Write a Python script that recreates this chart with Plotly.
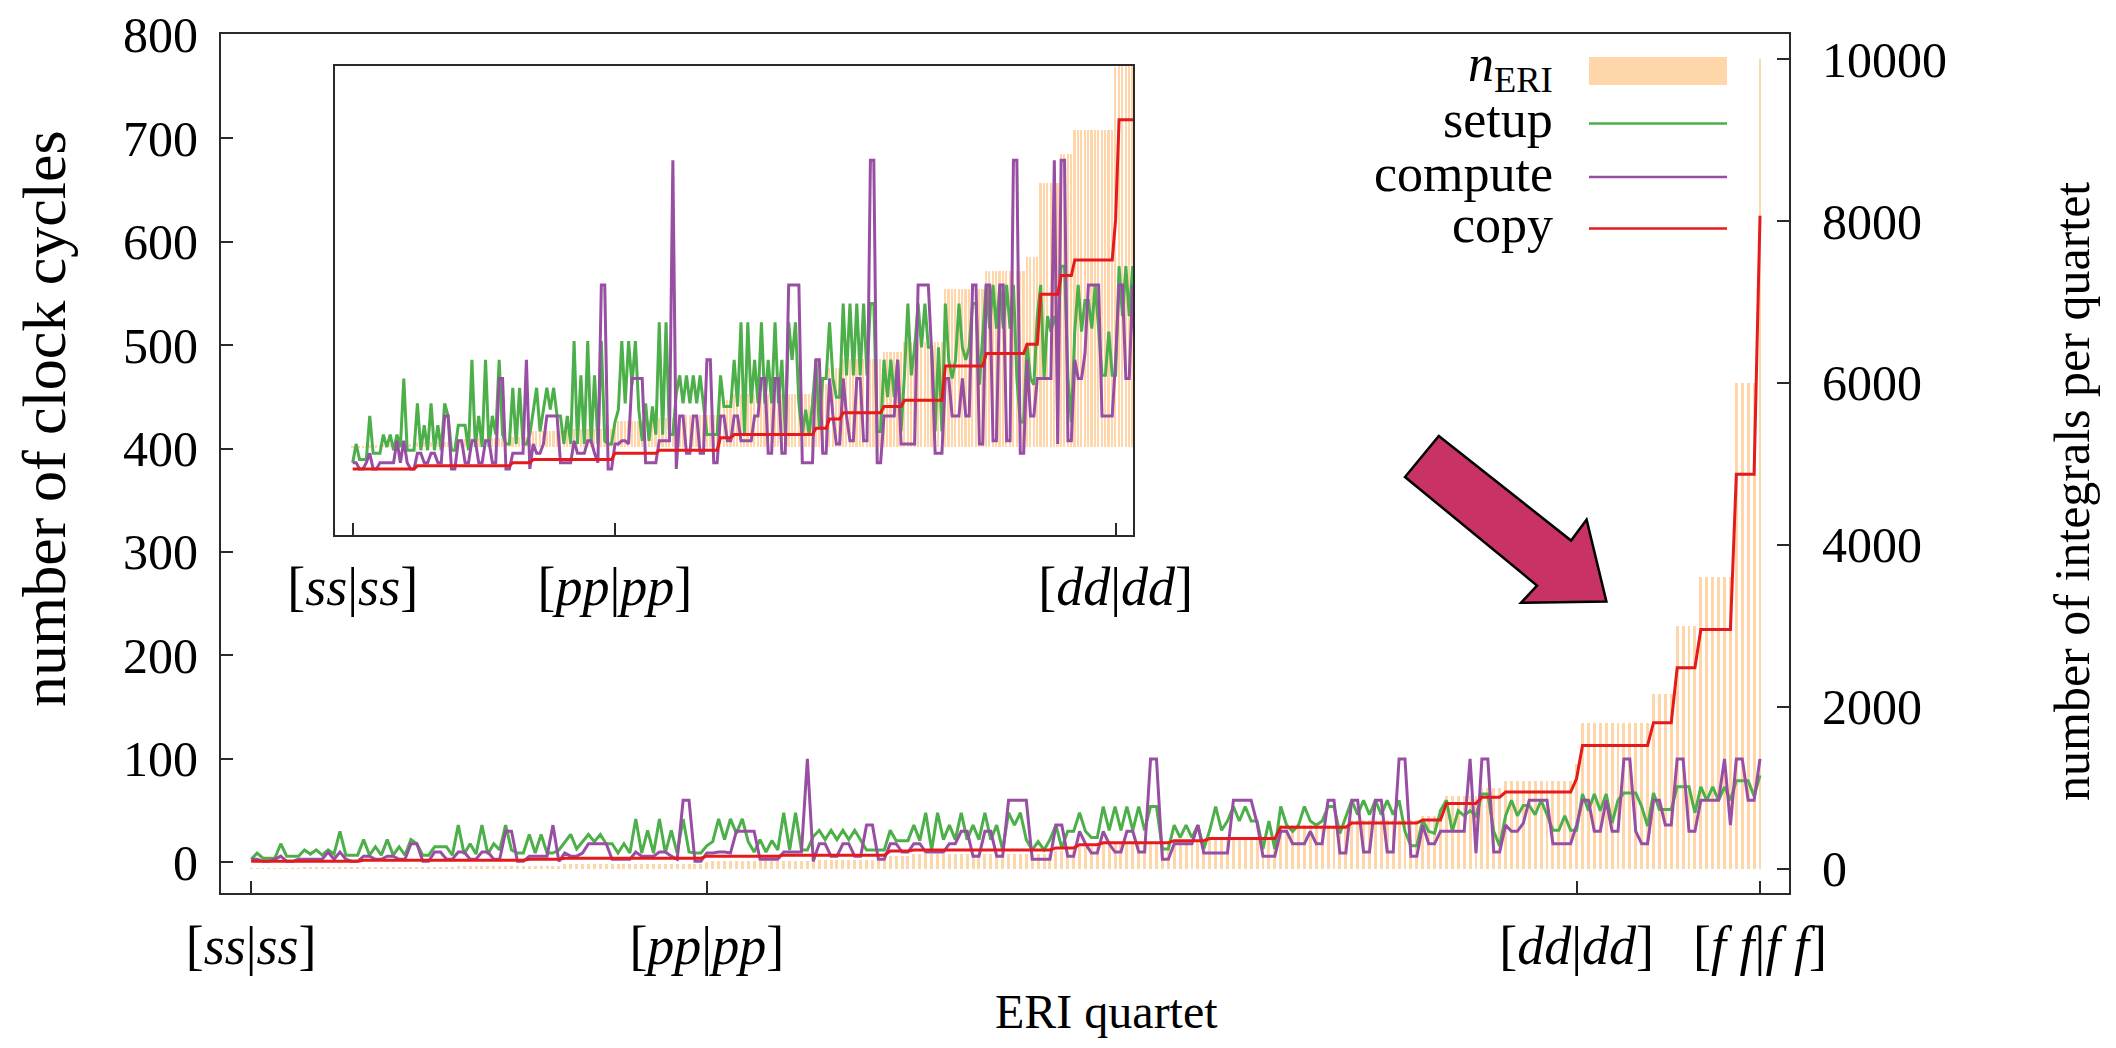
import plotly.graph_objects as go

# Reference canvas and main frame (pixels in the reference picture)
W, H = 2116, 1048
L, R, T, B = 221, 1789, 34, 893
OFF = 8                      # default page body margin
FW, FH = W - 2 * OFF, H - 2 * OFF

# ---------------- data ----------------
NERI_LEVELS = [1, 3, 6, 9, 10, 18, 27, 30, 36, 54, 60, 81, 90, 100, 108, 162, 180, 216,
               270, 300, 324, 360, 540, 600, 648, 900, 1000, 1080, 1296, 1800, 2160,
               3000, 3600, 6000, 10000]
NERI_COUNTS = [1, 4, 4, 6, 4, 12, 4, 12, 6, 12, 12, 1, 12, 6, 12, 4, 24, 4,
               4, 12, 6, 12, 12, 12, 4, 6, 4, 12, 1, 12, 4,
               4, 6, 4, 1]
COPY_LEVELS = [1, 1, 1, 1, 1, 2, 2, 2, 3, 4, 4, 6, 6, 7, 7, 11, 12, 14,
               17, 19, 21, 23, 34, 38, 41, 57, 63, 68, 81, 113, 135,
               188, 225, 375, 625]

SETUP = [
    3, 9, 4, 4, 4, 18, 6, 6, 6, 12,
    8, 12, 7, 12, 8, 30, 7, 7, 7, 22,
    7, 15, 7, 22, 7, 15, 7, 22, 18, 7,
    7, 15, 15, 15, 7, 36, 8, 18, 8, 36,
    8, 18, 12, 36, 12, 9, 9, 27, 9, 27,
    9, 9, 12, 20, 27, 13, 20, 27, 20, 27,
    18, 18, 9, 18, 9, 42, 9, 31, 9, 42,
    9, 31, 9, 42, 10, 9, 9, 16, 20, 42,
    22, 42, 28, 42, 20, 10, 22, 10, 21, 12,
    48, 12, 48, 12, 12, 25, 31, 22, 31, 22,
    31, 22, 31, 22, 12, 12, 12, 12, 31, 21,
    21, 21, 36, 21, 48, 12, 48, 22, 36, 22,
    48, 22, 36, 22, 48, 22, 36, 12, 48, 36,
    48, 22, 12, 20, 12, 22, 36, 14, 30, 30,
    48, 30, 24, 24, 54, 31, 54, 31, 54, 31,
    54, 31, 54, 54, 13, 13, 36, 24, 36, 24,
    36, 13, 31, 54, 31, 40, 54, 40, 54, 40,
    40, 13, 40, 13, 54, 36, 30, 36, 54, 40,
    36, 40, 54, 54, 28, 45, 60, 46, 60, 46,
    60, 46, 60, 46, 60, 30, 16, 16, 41, 30,
    28, 50, 60, 30, 50, 45, 50, 45, 66, 66,
    30, 16, 45, 60, 45, 55, 55, 46, 60, 46,
    31, 31, 45, 31, 31, 66, 50, 66, 50, 66,
    38, 60, 67, 67, 67, 54, 35, 67, 51, 51,
    51, 73, 73, 73, 48, 73, 60, 73, 60, 73,
    60, 79, 79, 79, 64, 84,
]

COMPUTE = [
    3, 3, 1, 1, 3, 6, 1, 1, 3, 3,
    3, 3, 3, 10, 3, 10, 3, 1, 1, 6,
    6, 3, 3, 6, 6, 3, 3, 18, 18, 1,
    1, 10, 10, 3, 3, 10, 10, 3, 3, 10,
    10, 3, 3, 30, 30, 1, 1, 6, 6, 6,
    6, 36, 1, 9, 6, 6, 9, 18, 18, 18,
    18, 3, 3, 3, 3, 10, 6, 6, 6, 10,
    10, 6, 3, 60, 60, 1, 1, 9, 9, 10,
    10, 9, 30, 30, 30, 30, 3, 3, 3, 3,
    10, 10, 10, 10, 100, 1, 18, 18, 6, 6,
    18, 18, 6, 6, 36, 36, 3, 3, 18, 18,
    10, 10, 18, 18, 10, 10, 10, 10, 18, 18,
    30, 30, 6, 6, 30, 30, 6, 6, 60, 60,
    60, 60, 3, 3, 3, 3, 36, 36, 6, 6,
    30, 18, 9, 9, 30, 18, 10, 10, 30, 30,
    10, 10, 100, 100, 3, 3, 18, 18, 18, 18,
    36, 9, 9, 9, 9, 9, 60, 60, 60, 60,
    38, 6, 6, 6, 30, 30, 18, 18, 18, 30,
    18, 18, 60, 60, 9, 9, 60, 60, 10, 10,
    60, 60, 10, 10, 100, 100, 6, 6, 36, 18,
    18, 30, 30, 30, 30, 30, 100, 9, 100, 100,
    10, 10, 36, 30, 30, 38, 60, 60, 60, 60,
    18, 18, 18, 18, 36, 60, 60, 30, 30, 60,
    30, 30, 100, 100, 30, 18, 18, 60, 60, 36,
    36, 100, 100, 30, 30, 60, 60, 60, 60, 100,
    36, 100, 100, 60, 60, 100,
]

MAIN_TICKS = [0, 77, 224, 255]
MAIN_TICKTEXT = ["[<i>ss</i>|<i>ss</i>]", "[<i>pp</i>|<i>pp</i>]",
                 "[<i>dd</i>|<i>dd</i>]", "[<i>f f</i>|<i>f f</i>]"]
INSET_TICKS = [0, 77, 224]
INSET_TICKTEXT = MAIN_TICKTEXT[:3]
LEFT_TICKS = [0, 100, 200, 300, 400, 500, 600, 700, 800]
RIGHT_TICKS = [0, 2000, 4000, 6000, 8000, 10000]

n_eri, copy = [], []
for lv, cnt, cp in zip(NERI_LEVELS, NERI_COUNTS, COPY_LEVELS):
    n_eri += [lv] * cnt
    copy += [cp] * cnt
idx = list(range(len(n_eri)))

# ---------------- styling ----------------
FONT = "Liberation Serif"
FS = 50
C_BAR = "#FFD5AA"
C_SETUP = "#4DAF4A"
C_COMP = "#984EA3"
C_COPY = "#E41A1C"
C_AX = "#2a2a2a"
LW = 3


def px(x):
    return (x - L) / (R - L)


def py(y):
    return (B - y) / (B - T)


fig = go.Figure()

# main plot: bars on base axis (right), lines on overlaying left axis
fig.add_trace(go.Bar(x=idx, y=n_eri, width=0.5, marker=dict(color=C_BAR, line=dict(width=0)),
                     xaxis="x", yaxis="y", showlegend=False))
for ser, col in [(SETUP, C_SETUP), (COMPUTE, C_COMP), (copy, C_COPY)]:
    fig.add_trace(go.Scatter(x=idx, y=ser, mode="lines", line=dict(color=col, width=LW),
                             xaxis="x", yaxis="y2", showlegend=False))

# inset
fig.add_trace(go.Bar(x=idx, y=n_eri, width=0.5, marker=dict(color=C_BAR, line=dict(width=0)),
                     xaxis="x2", yaxis="y3", showlegend=False))
for ser, col in [(SETUP, C_SETUP), (COMPUTE, C_COMP), (copy, C_COPY)]:
    fig.add_trace(go.Scatter(x=idx, y=ser, mode="lines", line=dict(color=col, width=LW),
                             xaxis="x2", yaxis="y4", showlegend=False))

inset_dom_x = [px(335), px(1133)]
inset_dom_y = [py(535), py(66)]

axis_common = dict(showgrid=False, zeroline=False, linecolor=C_AX, linewidth=2,
                   tickcolor=C_AX, tickwidth=2, ticklen=12, automargin=False,
                   ticklabeloverflow="allow",
                   tickfont=dict(family=FONT, size=FS, color="black"))
xtickfont = dict(family=FONT, size=54, color="black")

fig.update_layout(
    width=FW, height=FH,
    margin=dict(l=L - OFF, r=FW - (R - OFF), t=T - OFF, b=FH - (B - OFF), pad=0),
    paper_bgcolor="white", plot_bgcolor="white",
    bargap=0, barmode="overlay",
    showlegend=False,
    font=dict(family=FONT, size=FS, color="black"),
    xaxis=dict(domain=[0, 1], range=[-5.1, 259.9], anchor="y",
               tickmode="array", tickvals=MAIN_TICKS, ticktext=MAIN_TICKTEXT,
               ticks="inside", showline=True, mirror=True, ticklabelstandoff=4,
               **{**axis_common, "tickfont": xtickfont}),
    yaxis=dict(domain=[0, 1], range=[-300, 10310], side="right", anchor="x",
               tickmode="array", tickvals=RIGHT_TICKS,
               ticktext=[str(v) for v in RIGHT_TICKS],
               ticks="inside", showline=True, mirror=True, ticklabelstandoff=21,
               **axis_common),
    yaxis2=dict(range=[-29.6, 800.6], overlaying="y", side="left", anchor="x",
                tickmode="array", tickvals=LEFT_TICKS,
                ticktext=[str(v) for v in LEFT_TICKS],
                ticks="inside", showline=False, ticklabelstandoff=22,
                **axis_common),
    xaxis2=dict(domain=inset_dom_x, range=[-5.2, 229.1], anchor="y3",
                tickmode="array", tickvals=INSET_TICKS, ticktext=INSET_TICKTEXT,
                ticks="inside", showline=True, mirror=True, ticklabelstandoff=3,
                **{**axis_common, "tickfont": xtickfont}),
    yaxis3=dict(domain=inset_dom_y, range=[-300, 1300], anchor="x2",
                showticklabels=False, ticks="", showline=True, mirror=True,
                showgrid=False, zeroline=False, linecolor=C_AX, linewidth=2,
                automargin=False),
    yaxis4=dict(range=[-20.2, 130.2], overlaying="y3", anchor="x2", side="left",
                showticklabels=False, ticks="", showline=False, showgrid=False,
                zeroline=False, automargin=False),
)

# axis titles
annotations = [
    dict(text="number of clock cycles", x=px(44), y=py(419), textangle=-90, size=62),
    dict(text="number of integrals per quartet", x=px(2072), y=py(492), textangle=-90, size=50),
    dict(text="ERI quartet", x=px(1106), y=py(1011), textangle=0, size=48),
]
for a in annotations:
    size = a.pop("size")
    fig.add_annotation(xref="paper", yref="paper", showarrow=False,
                       xanchor="center", yanchor="middle",
                       font=dict(family=FONT, size=size, color="black"), **a)

# custom legend (text right-aligned, sample on the right)
LEG_TXT_X = 1555
LEG_X0, LEG_X1 = 1589, 1727
leg_rows = [
    ("<i>n</i><sub>ERI</sub>", 71, 67, "bar", C_BAR),
    ("setup", 123.5, 119.5, "line", C_SETUP),
    ("compute", 177, 173, "line", C_COMP),
    ("copy", 228.5, 224.5, "line", C_COPY),
]
for label, yc, yt, kind, col in leg_rows:
    fig.add_annotation(xref="paper", yref="paper", showarrow=False,
                       x=px(LEG_TXT_X), y=py(yt), xanchor="right", yanchor="middle",
                       text=label, font=dict(family=FONT, size=52, color="black"))
    if kind == "bar":
        fig.add_shape(type="rect", xref="paper", yref="paper",
                      x0=px(LEG_X0), x1=px(LEG_X1), y0=py(85), y1=py(57),
                      fillcolor=col, line=dict(width=0))
    else:
        fig.add_shape(type="line", xref="paper", yref="paper",
                      x0=px(LEG_X0), x1=px(LEG_X1), y0=py(yc), y1=py(yc),
                      line=dict(color=col, width=2.5))

# big arrow annotation
ARROW_PTS = [(1438.8, 435.9), (1571.1, 540.6), (1586.6, 519.6), (1606.4, 601.6),
             (1521.0, 602.8), (1537.0, 585.5), (1405.0, 477.0)]
path = "M " + " L ".join(f"{px(x):.5f},{py(y):.5f}" for x, y in ARROW_PTS) + " Z"
fig.add_shape(type="path", xref="paper", yref="paper", path=path,
              fillcolor="#C83264", line=dict(color="black", width=2.5))

fig.write_html("out.html")
